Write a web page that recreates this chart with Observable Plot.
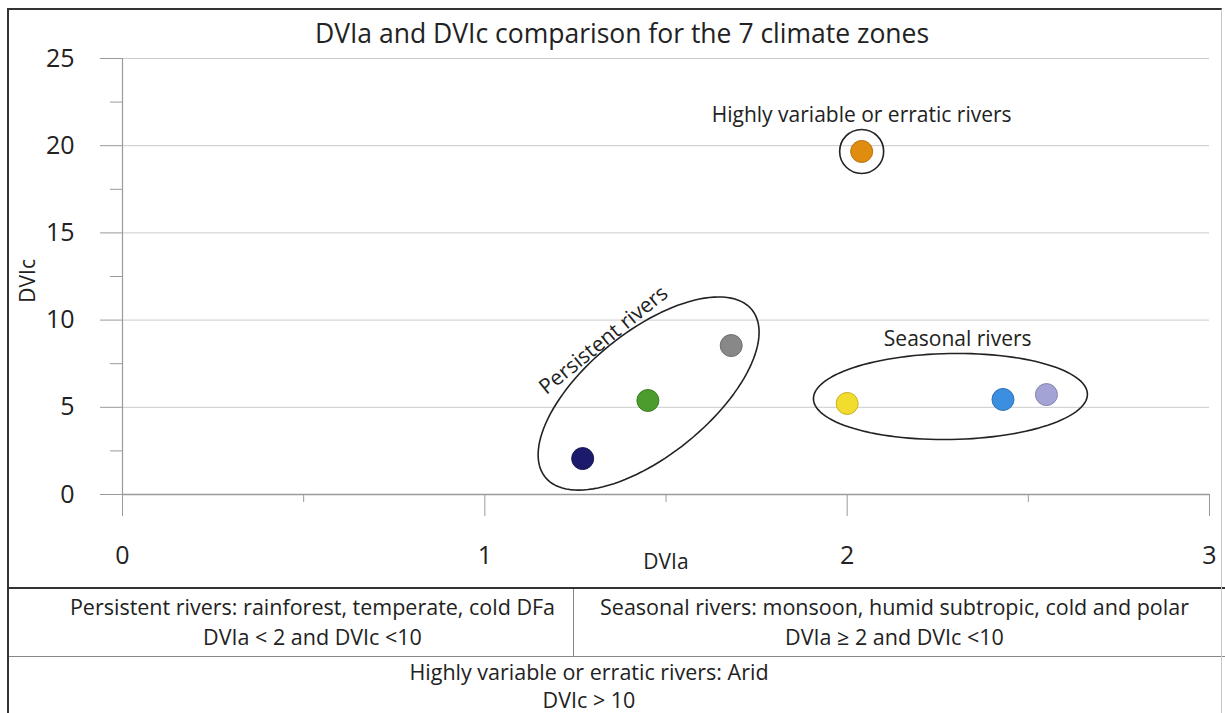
<!DOCTYPE html>
<html>
<head>
<meta charset="utf-8">
<script src="https://cdn.jsdelivr.net/npm/d3@7"></script>
<script src="https://cdn.jsdelivr.net/npm/@observablehq/plot@0.6"></script>
<style>
  body { margin: 0; background: #fff; font-family: "Open Sans", "Noto Sans", sans-serif; color: #222; }
  #page { position: relative; width: 1225px; height: 713px; overflow: hidden; }
  #chart { position: absolute; left: 0; top: 0; }
  #frame { position: absolute; left: 7px; top: 8px; width: 1215px; height: 760px;
           border-top: 2px solid #333; border-left: 2px solid #333; border-right: 1px solid #c8c8c8;
           box-sizing: border-box; pointer-events: none; }
  #title { position: absolute; top: 16px; left: 0; width: 1244px; text-align: center; font-size: 26.5px; line-height: 34px; }
  #table { position: absolute; left: 9px; top: 587px; width: 1216px; border-top: 2px solid #333; font-size: 21.5px; }
  #table .row1 { display: flex; height: 67px; border-bottom: 1px solid #888; }
  #table .cell { text-align: center; line-height: 30px; padding-top: 3px; box-sizing: border-box; white-space: nowrap; }
  #table .left { width: 565px; padding-left: 43px; border-right: 1px solid #888; }
  #table .right { width: 651px; padding-right: 10px; }
  #table .row2 { text-align: center; line-height: 28px; padding-top: 1px; padding-right: 56px; white-space: nowrap; }
</style>
</head>
<body>
<div id="page">
  <div id="chart"></div>
  <div id="title"></div>
  <div id="table"></div>
  <div id="frame"></div>
</div>
<script>
// River regime groups and their DVI values, one entry per climate zone
const groups = ["Persistent", "Persistent", "Persistent", "Seasonal", "Seasonal", "Seasonal", "Erratic"];
const dvia = [1.27, 1.45, 1.68, 2.00, 2.43, 2.55, 2.04];
const dvic = [2.06, 5.39, 8.54, 5.22, 5.45, 5.73, 19.67];
const colors = ["#1c1a6b", "#4a9c2c", "#888888", "#f2dc2e", "#3c8fe0", "#a3a3d6", "#e08c0e"];

const xTicks = [0, 1, 2, 3];
const xMinor = [0.5, 1.5, 2.5];
const yTicks = [0, 5, 10, 15, 20, 25];
const yMinor = [2.5, 7.5, 12.5, 17.5, 22.5];

const titleText = "DVIa and DVIc comparison for the 7 climate zones";
const xLabel = "DVIa";
const yLabel = "DVIc";
const tableRows = [
  ["Persistent rivers: rainforest, temperate, cold DFa", "DVIa < 2 and DVIc <10"],
  ["Seasonal rivers: monsoon, humid subtropic, cold and polar", "DVIa \u2265 2 and DVIc <10"],
  ["Highly variable or erratic rivers: Arid", "DVIc > 10"]
];

const points = groups.map((g, i) => ({group: g, dvia: dvia[i], dvic: dvic[i], color: colors[i]}));

// Layout
const W = 1225, H = 588, ML = 122, MR = 16, MT = 58, MB = 94;
const xDomain = [0, 3], yDomain = [0, 25];
const kx = (W - ML - MR) / (xDomain[1] - xDomain[0]); // px per DVIa unit
const ky = (H - MT - MB) / (yDomain[1] - yDomain[0]); // px per DVIc unit

// Closed outline of a rotated ellipse around a data-space centre (semi-axes in px)
function ellipse(cx, cy, a, b, deg) {
  const t = deg * Math.PI / 180;
  return d3.range(0, 361, 3).map(k => {
    const s = k * Math.PI / 180;
    const px = a * Math.cos(s) * Math.cos(t) - b * Math.sin(s) * Math.sin(t);
    const py = a * Math.cos(s) * Math.sin(t) + b * Math.sin(s) * Math.cos(t);
    return {x: cx + px / kx, y: cy + py / ky};
  });
}
const persistentLoop = ellipse(1.452, 5.79, 133, 62, 39);
const seasonalLoop = ellipse(2.285, 5.62, 137, 43, 1);
const erratic = points.filter(d => d.group === "Erratic");

const annotations = [
  {text: "Persistent rivers", x: 1.3275, y: 8.85, rotate: -39},
  {text: "Seasonal rivers", x: 2.305, y: 8.9, rotate: 0},
  {text: "Highly variable or erratic rivers", x: 2.04, y: 21.75, rotate: 0}
];

const axisColor = "#9a9a9a";
const font = "'Open Sans', 'Noto Sans', sans-serif";

const chart = Plot.plot({
  width: W, height: H,
  marginLeft: ML, marginRight: MR, marginTop: MT, marginBottom: MB,
  x: {domain: xDomain},
  y: {domain: yDomain},
  style: {fontFamily: font, fontSize: "18px", color: "#222", background: "transparent", overflow: "visible"},
  marks: [
    Plot.gridY(yTicks.filter(d => d > 0), {stroke: "#cbcbcb", strokeOpacity: 1}),
    Plot.axisY(yTicks, {tickSize: 22, tickPadding: 26, fontSize: 25, stroke: axisColor, fill: "#222", label: null, tickFormat: d => String(d)}),
    Plot.axisY(yMinor, {tickSize: 12, text: null, stroke: axisColor, label: null}),
    Plot.axisX(xTicks, {tickSize: 22, tickPadding: 30, fontSize: 25, stroke: axisColor, fill: "#222", label: null, tickFormat: d => String(d)}),
    Plot.axisX(xMinor, {tickSize: 8, text: null, stroke: axisColor, label: null}),
    Plot.ruleY([0], {stroke: axisColor, strokeWidth: 1.5}),
    Plot.ruleX([0], {stroke: axisColor, strokeWidth: 1.2}),
    Plot.text([xLabel], {x: 1.5, frameAnchor: "bottom", dy: 74, fontSize: 21, fill: "#222"}),
    Plot.text([yLabel], {y: 11.0, frameAnchor: "left", dx: -94, rotate: -90, fontSize: 21, fill: "#222"}),
    Plot.line(persistentLoop, {x: "x", y: "y", stroke: "#222", strokeWidth: 1.6}),
    Plot.line(seasonalLoop, {x: "x", y: "y", stroke: "#222", strokeWidth: 1.6}),
    Plot.dot(erratic, {x: "dvia", y: "dvic", r: 22, stroke: "#222", strokeWidth: 1.6, fill: "none"}),
    Plot.dot(points, {
      x: "dvia", y: "dvic", r: 11,
      fill: d => d.color,
      stroke: d => d3.color(d.color).darker(0.6).formatHex(),
      strokeWidth: 1
    }),
    Plot.text(annotations, {x: "x", y: "y", text: "text", rotate: "rotate", fontSize: 21, fill: "#222"})
  ]
});
document.getElementById("chart").appendChild(chart);
document.getElementById("title").textContent = titleText;

// Classification table beneath the chart
const table = document.getElementById("table");
table.innerHTML =
  `<div class="row1">
     <div class="cell left">${tableRows[0][0]}<br>${tableRows[0][1]}</div>
     <div class="cell right">${tableRows[1][0]}<br>${tableRows[1][1]}</div>
   </div>
   <div class="row2">${tableRows[2][0]}<br>${tableRows[2][1]}</div>`;
</script>
</body>
</html>
